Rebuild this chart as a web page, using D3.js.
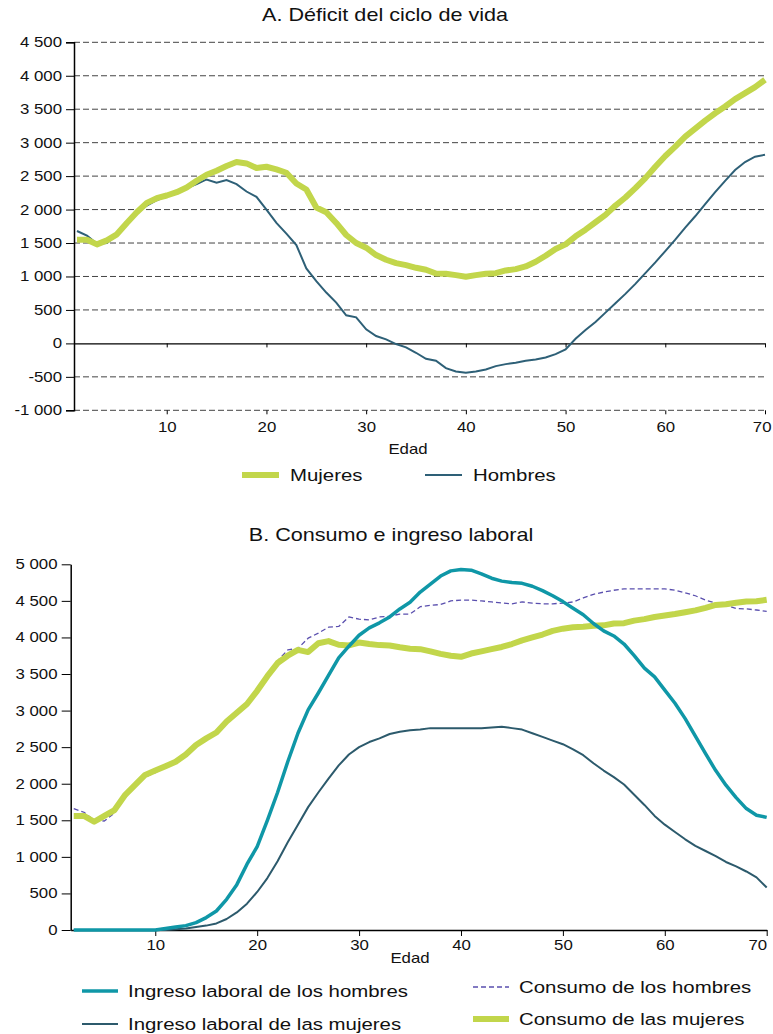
<!DOCTYPE html>
<html>
<head>
<meta charset="utf-8">
<script src="https://cdn.jsdelivr.net/npm/d3@7"></script>
<style>
  body { margin: 0; background: #fff; }
  svg text { font-family: "Liberation Sans", Arial, sans-serif; fill: #111; }
</style>
</head>
<body>
<svg id="chart" width="773" height="1034"></svg>
<script>

// ---- data ----

// panel A: ages 1..70
var agesA = d3.range(1, 71);
var deficitMujeres = [1550,1550,1480,1540,1630,1800,1960,2100,2170,2210,
  2260,2330,2430,2520,2580,2650,2710,2690,2620,2640,
  2600,2550,2390,2300,2030,1960,1800,1620,1500,1430,
  1320,1250,1200,1170,1130,1100,1045,1040,1020,995,
  1020,1040,1050,1090,1110,1150,1220,1310,1410,1480,
  1600,1700,1810,1920,2060,2180,2320,2470,2640,2800,
  2940,3090,3210,3330,3440,3540,3650,3740,3830,3940];
var deficitHombres = [1680,1610,1490,1500,1620,1800,1960,2060,2140,2200,
  2260,2320,2380,2450,2400,2440,2380,2270,2190,2000,
  1800,1640,1470,1120,930,760,610,420,390,210,
  110,60,-10,-60,-140,-230,-260,-370,-420,-440,
  -420,-390,-340,-310,-290,-260,-240,-210,-160,-90,
  70,200,320,460,600,740,890,1050,1210,1380,
  1550,1730,1900,2080,2260,2430,2590,2710,2790,2820];
var ticksA = [-1000,-500,0,500,1000,1500,2000,2500,3000,3500,4000,4500];

// panel B: ages 2..70
var agesB = d3.range(2, 71);
var ingresoHombres = [0,0,0,0,0,0,0,0,0,20,
  40,60,100,170,260,420,620,900,1140,1500,
  1880,2300,2690,3010,3240,3480,3720,3880,4030,4130,
  4200,4280,4390,4480,4620,4730,4840,4910,4930,4920,
  4870,4810,4770,4750,4740,4700,4640,4570,4490,4400,
  4310,4190,4090,4020,3910,3750,3580,3460,3280,3100,
  2890,2650,2410,2180,1980,1810,1660,1570,1540];
var ingresoMujeres = [0,0,0,0,0,0,0,0,0,0,
  10,20,40,60,90,150,240,360,520,710,
  940,1200,1440,1680,1880,2070,2250,2400,2500,2570,
  2620,2680,2710,2730,2740,2760,2760,2760,2760,2760,
  2760,2770,2780,2760,2740,2690,2640,2590,2540,2470,
  2390,2280,2180,2090,1990,1850,1710,1560,1440,1340,
  1240,1150,1080,1010,930,870,800,720,580];
var consumoHombres = [1660,1610,1500,1490,1600,1800,1970,2090,2150,2230,
  2300,2400,2520,2620,2690,2840,2970,3100,3300,3500,
  3680,3830,3850,3990,4060,4140,4150,4280,4250,4240,
  4280,4290,4320,4320,4420,4440,4450,4500,4510,4510,
  4500,4485,4470,4460,4485,4470,4460,4460,4470,4485,
  4540,4590,4620,4645,4665,4665,4665,4665,4665,4645,
  4610,4570,4510,4470,4440,4395,4390,4375,4355];
var consumoMujeres = [1560,1560,1480,1560,1640,1840,1980,2120,2180,2240,
  2300,2400,2530,2620,2700,2850,2970,3090,3270,3470,
  3650,3750,3830,3800,3920,3950,3900,3890,3930,3910,
  3895,3890,3865,3845,3840,3810,3775,3750,3735,3780,
  3810,3840,3870,3910,3960,4000,4040,4090,4120,4140,
  4145,4160,4165,4190,4195,4230,4250,4280,4300,4320,
  4345,4370,4405,4445,4455,4475,4490,4495,4515];
var ticksB = [0,500,1000,1500,2000,2500,3000,3500,4000,4500,5000];

var ageTicks = [10,20,30,40,50,60,70];

// ---- styles ----
var green = "#c2d64b",
    slate = "#2e6077",
    teal = "#0f97a7",
    darkslate = "#2c5a6c",
    purple = "#5a4fae";

var SX = 1.2; // the original type is set a bit wide

var svg = d3.select("#chart");

function fmt(v) {
  // thousands separated by a space, plain hyphen for minus
  var s = d3.format(",")(Math.abs(v)).replace(/,/g, " ");
  return (v < 0 ? "-" : "") + s;
}

// text placed at x,y, stretched horizontally
function label(x, y, txt, size, anchor) {
  return svg.append("text")
    .attr("transform", "translate(" + x + "," + y + ") scale(" + SX + ",1)")
    .attr("text-anchor", anchor || "start")
    .style("font-size", size + "px")
    .text(txt);
}

function stretchTicks(g) {
  g.selectAll(".tick text")
    .attr("transform", "scale(" + SX + ",1)")
    .attr("fill", "#111");
}

// ================= panel A =================

var xA = d3.scaleLinear().domain([0.7, 70]).range([74, 765]);
var yA = d3.scaleLinear().domain([-1000, 4500]).range([410.3, 42.3]);

label(385, 21, "A. Déficit del ciclo de vida", 18, "middle");

// dashed gridlines (0 is drawn as solid axis)
svg.append("g").selectAll("line")
  .data(ticksA.filter(function(d){ return d !== 0; }))
  .enter().append("line")
  .attr("x1", 74).attr("x2", 765)
  .attr("y1", function(d){ return yA(d); })
  .attr("y2", function(d){ return yA(d); })
  .attr("stroke", "#444")
  .attr("stroke-width", 1)
  .attr("stroke-dasharray", "6,3");

var yAxisA = svg.append("g")
  .attr("transform", "translate(74,0)")
  .call(d3.axisLeft(yA).tickValues(ticksA).tickSize(8).tickPadding(2).tickFormat(fmt));
yAxisA.select(".domain").attr("stroke", "#000").attr("stroke-width", 1.5);
yAxisA.selectAll(".tick line").attr("stroke", "#000");
yAxisA.selectAll("text").style("font-size", "14px");
stretchTicks(yAxisA);

// zero line with ticks
var zeroA = svg.append("g")
  .attr("transform", "translate(0," + yA(0) + ")")
  .call(d3.axisBottom(xA).tickValues(ageTicks).tickSize(4).tickSizeOuter(0).tickFormat(""));
zeroA.select(".domain").attr("stroke", "#000").attr("stroke-width", 1.2);

// bottom tick labels
var xAxisA = svg.append("g")
  .attr("transform", "translate(0," + yA(-1000) + ")")
  .call(d3.axisBottom(xA).tickValues(ageTicks).tickSize(4).tickPadding(8).tickSizeOuter(0));
xAxisA.select(".domain").remove();
xAxisA.selectAll("text").style("font-size", "14px");
stretchTicks(xAxisA);
xAxisA.selectAll(".tick text").filter(function(d){ return d === 70; })
  .attr("text-anchor", "end").attr("x", 5);

label(408, 454, "Edad", 14, "middle");

var lineA = d3.line()
  .x(function(d, i){ return xA(agesA[i]); })
  .y(function(d){ return yA(d); });

svg.append("path")
  .datum(deficitHombres)
  .attr("fill", "none")
  .attr("stroke", slate)
  .attr("stroke-width", 2)
  .attr("d", lineA);

svg.append("path")
  .datum(deficitMujeres)
  .attr("fill", "none")
  .attr("stroke", green)
  .attr("stroke-width", 6)
  .attr("stroke-linejoin", "round")
  .attr("d", lineA);

// legend A
var legA = [
  {name: "Mujeres", color: green, w: 6, x: 242},
  {name: "Hombres", color: slate, w: 2, x: 425}
];
legA.forEach(function(l){
  svg.append("line")
    .attr("x1", l.x).attr("x2", l.x + 37)
    .attr("y1", 475).attr("y2", 475)
    .attr("stroke", l.color).attr("stroke-width", l.w);
  label(l.x + 48, 481, l.name, 17);
});

// ================= panel B =================

var xB = d3.scaleLinear().domain([1.7, 70]).range([70.7, 766.7]);
var yB = d3.scaleLinear().domain([0, 5000]).range([930, 564.3]);

label(391, 541, "B. Consumo e ingreso laboral", 18, "middle");

var yAxisB = svg.append("g")
  .attr("transform", "translate(70.7,0)")
  .call(d3.axisLeft(yB).tickValues(ticksB).tickSize(9).tickPadding(2).tickSizeOuter(0).tickFormat(fmt));
yAxisB.select(".domain").attr("stroke", "#000").attr("stroke-width", 1.5);
yAxisB.selectAll("text").style("font-size", "14px");
stretchTicks(yAxisB);

var xAxisB = svg.append("g")
  .attr("transform", "translate(0," + yB(0) + ")")
  .call(d3.axisBottom(xB).tickValues(ageTicks).tickSize(6).tickPadding(4).tickSizeOuter(0));
xAxisB.select(".domain").attr("stroke", "#000").attr("stroke-width", 1.5);
xAxisB.selectAll("text").style("font-size", "14px");
stretchTicks(xAxisB);
xAxisB.selectAll(".tick text").filter(function(d){ return d === 70; })
  .attr("text-anchor", "end").attr("x", 0);

label(410, 963, "Edad", 14, "middle");

var lineB = d3.line()
  .x(function(d, i){ return xB(agesB[i]); })
  .y(function(d){ return yB(d); });

var seriesB = [
  {data: ingresoMujeres, color: darkslate, w: 2, dash: null},
  {data: consumoHombres, color: purple, w: 1.3, dash: "5,3"},
  {data: consumoMujeres, color: green, w: 6, dash: null},
  {data: ingresoHombres, color: teal, w: 3.5, dash: null}
];
seriesB.forEach(function(s){
  svg.append("path")
    .datum(s.data)
    .attr("fill", "none")
    .attr("stroke", s.color)
    .attr("stroke-width", s.w)
    .attr("stroke-dasharray", s.dash)
    .attr("stroke-linejoin", "round")
    .attr("d", lineB);
});

// legend B
var legB = [
  {name: "Ingreso laboral de los hombres", color: teal, w: 3.5, dash: null, x: 82, y: 991},
  {name: "Ingreso laboral de las mujeres", color: darkslate, w: 2, dash: null, x: 82, y: 1024},
  {name: "Consumo de los hombres", color: purple, w: 1.3, dash: "5,3", x: 473, y: 987},
  {name: "Consumo de las mujeres", color: green, w: 6, dash: null, x: 473, y: 1019}
];
legB.forEach(function(l){
  svg.append("line")
    .attr("x1", l.x).attr("x2", l.x + 36)
    .attr("y1", l.y).attr("y2", l.y)
    .attr("stroke", l.color).attr("stroke-width", l.w)
    .attr("stroke-dasharray", l.dash);
  label(l.x + 46, l.y + 6, l.name, 17);
});

</script>
</body>
</html>
